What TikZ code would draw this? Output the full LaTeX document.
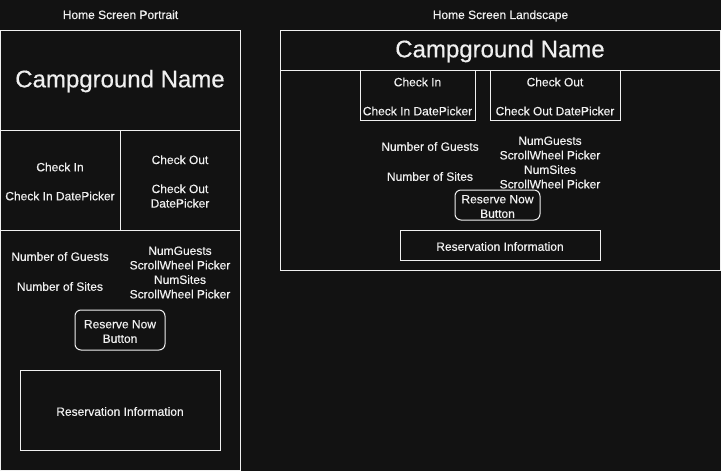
\documentclass[tikz,border=0pt]{standalone}
\usepackage{fontspec}
\setmainfont{Liberation Sans}[FakeBold=0.4]
\usetikzlibrary{positioning}
\definecolor{bgdark}{RGB}{18,18,18}
\definecolor{inkwhite}{RGB}{240,240,240}

\begin{document}
\begin{tikzpicture}[
  x=1pt, y=-1pt,
  panel/.style={draw=inkwhite, line width=1pt, rectangle, inner sep=0pt, outer sep=0pt},
  btnnode/.style={panel, rounded corners=6pt},
  lbl/.style={text=inkwhite, inner sep=0pt, align=center, font=\fontsize{12}{14.5}\selectfont},
  bigname/.style={text=inkwhite, inner sep=0pt, anchor=base, font=\fontsize{24}{28}\selectfont}
]

% background and frame
\fill[bgdark] (0,0) rectangle (721,471);
\useasboundingbox (0,0) rectangle (721,471);

% portrait screen
\node[panel, minimum width=239.5pt, minimum height=100pt] (PCamp) at (120.25,80) {};
\node[panel, minimum width=119.5pt, minimum height=100pt] (PIn) at (60.25,180) {};
\node[panel, minimum width=120pt, minimum height=100pt] (POut) at (180,180) {};
\node[panel, minimum width=239.5pt, minimum height=240pt] (PBody) at (120.25,350) {};
\node[btnnode, minimum width=90pt, minimum height=40pt] (PReserve) at (120,330) {};
\node[panel, minimum width=200pt, minimum height=80pt] (PInfo) at (120,410) {};

\node[lbl, anchor=base] (PTitle) at (120.5,19) {Home Screen Portrait};
\node[bigname] (PName) at (120,87.3) {Campground Name};
\node[lbl] (PInText)  at (60,181.5) {Check In\\[14.5pt]Check In DatePicker};
\node[lbl] (POutText) at (180,181.5) {Check Out\\[14.5pt]Check Out\\DatePicker};
\node[lbl] (PGuests) at (60,256.5) {Number of Guests};
\node[lbl] (PSites)  at (60,286.5) {Number of Sites};
\node[lbl] (PPick)   at (180,272.5) {NumGuests\\ScrollWheel Picker\\NumSites\\ScrollWheel Picker};
\node[lbl] (PResText) at (120,331.5) {Reserve Now\\Button};
\node[lbl] (PInfoText) at (120,411.5) {Reservation Information};

% landscape screen
\node[panel, minimum width=440pt, minimum height=40pt] (LHead) at (500,50) {};
\node[panel, minimum width=440pt, minimum height=200pt] (LBody) at (500,170) {};
\node[panel, minimum width=115pt, minimum height=50pt] (LIn) at (417.5,95) {};
\node[panel, minimum width=130pt, minimum height=50pt] (LOut) at (555,95) {};
\node[btnnode, minimum width=85pt, minimum height=30pt] (LReserve) at (497.5,205) {};
\node[panel, minimum width=200pt, minimum height=30pt] (LInfo) at (500,245) {};

\node[lbl, anchor=base] (LTitle) at (500.5,19) {Home Screen Landscape};
\node[bigname] (LName) at (500,57.3) {Campground Name};
\node[lbl] (LInText)  at (417.5,96.5) {Check In\\[14.5pt]Check In DatePicker};
\node[lbl] (LOutText) at (555,96.5) {Check Out\\[14.5pt]Check Out DatePicker};
\node[lbl] (LGuests) at (430,146.5) {Number of Guests};
\node[lbl] (LSites)  at (430,176.5) {Number of Sites};
\node[lbl] (LPick)   at (550,162.5) {NumGuests\\ScrollWheel Picker\\NumSites\\ScrollWheel Picker};
\node[lbl] (LResText) at (497.5,206.5) {Reserve Now\\Button};
\node[lbl] (LInfoText) at (500,246.5) {Reservation Information};

\end{tikzpicture}
\end{document}
